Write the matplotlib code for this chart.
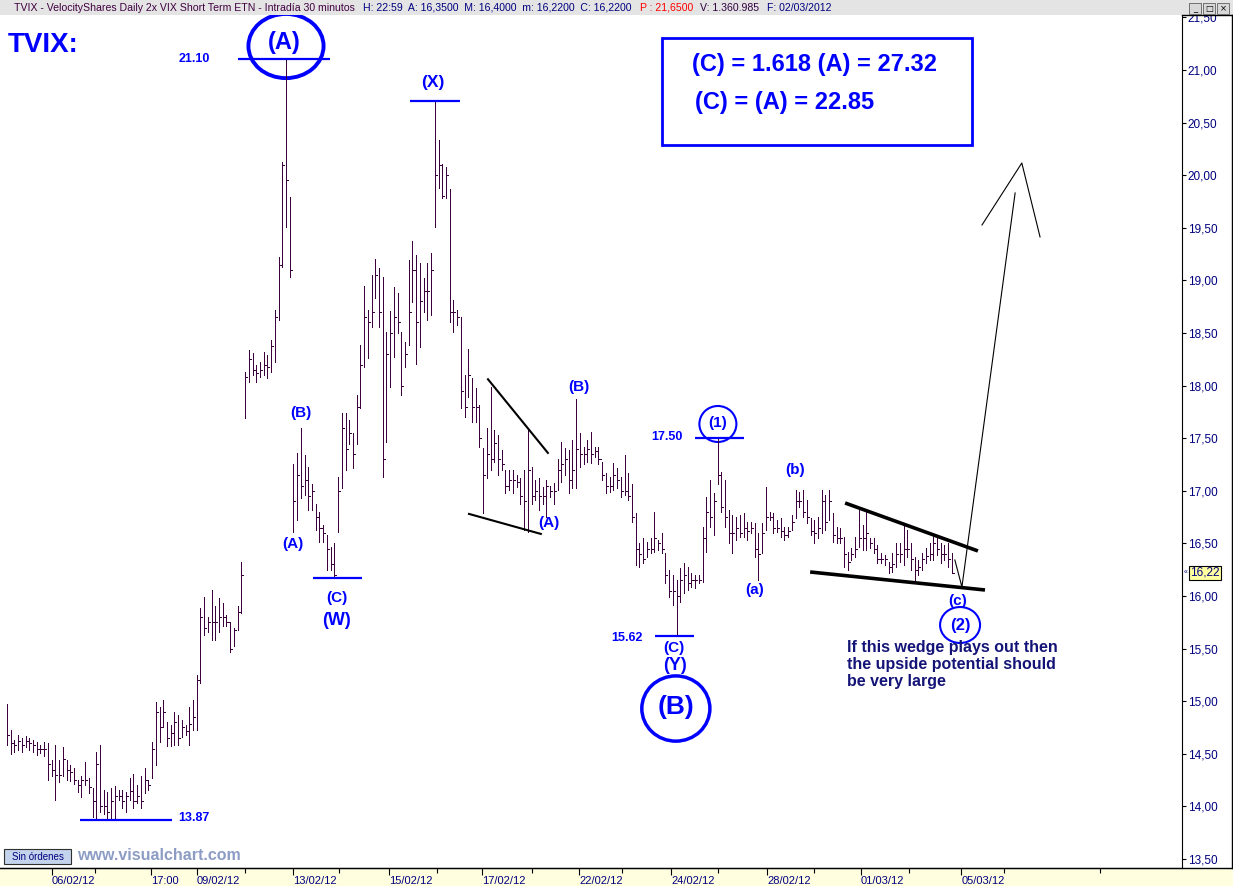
import numpy as np
import matplotlib
matplotlib.use("Agg")
import matplotlib.pyplot as plt
from matplotlib.patches import Ellipse, Rectangle
from matplotlib.lines import Line2D
from matplotlib.ticker import FuncFormatter

plt.rcParams['font.family'] = ['Liberation Sans', 'DejaVu Sans']

# 30 minute bars, TVIX, 03/02/2012 - 02/03/2012
high = [14.97, 14.73, 14.63, 14.68, 14.65, 14.67, 14.65, 14.63, 14.61, 14.58,
        14.61, 14.60, 14.44, 14.58, 14.44, 14.56, 14.44, 14.39, 14.36, 14.25,
        14.29, 14.42, 14.27, 14.17, 14.52, 14.58, 14.16, 14.14, 14.17, 14.19,
        14.16, 14.16, 14.14, 14.27, 14.31, 14.20, 14.29, 14.36, 14.25, 14.61,
        14.99, 14.94, 15.01, 14.80, 14.77, 14.90, 14.87, 14.82, 14.77, 14.94,
        15.01, 15.25, 15.89, 15.99, 15.80, 16.06, 15.90, 15.98, 15.93, 15.82,
        15.75, 15.70, 15.90, 16.32, 18.13, 18.34, 18.31, 18.20, 18.22, 18.32,
        18.29, 18.43, 18.72, 19.22, 20.13, 21.11, 19.79, 17.25, 17.36, 17.60,
        17.34, 17.23, 17.06, 16.87, 16.80, 16.67, 16.58, 16.47, 16.50, 17.13,
        17.74, 17.74, 17.67, 17.55, 17.91, 18.39, 18.95, 18.72, 19.05, 19.20,
        19.12, 19.03, 18.51, 18.71, 18.94, 18.88, 18.51, 18.41, 19.19, 19.37,
        19.24, 19.17, 19.02, 19.17, 19.26, 20.71, 20.33, 20.11, 20.08, 19.87,
        18.81, 18.72, 18.65, 18.10, 18.35, 18.07, 17.98, 17.82, 17.41, 17.60,
        17.99, 17.58, 17.53, 17.39, 17.20, 17.20, 17.20, 17.15, 17.12, 17.20,
        17.58, 17.23, 17.10, 17.12, 17.04, 17.10, 17.05, 17.07, 17.30, 17.46,
        17.41, 17.39, 17.48, 17.87, 17.55, 17.42, 17.48, 17.56, 17.42, 17.42,
        17.27, 17.17, 17.13, 17.26, 17.22, 17.13, 17.34, 17.17, 17.06, 16.79,
        16.50, 16.55, 16.51, 16.55, 16.80, 16.53, 16.60, 16.41, 16.25, 16.20,
        16.15, 16.27, 16.31, 16.28, 16.22, 16.20, 16.20, 16.66, 16.94, 17.10,
        16.98, 17.50, 17.18, 17.10, 16.82, 16.77, 16.75, 16.77, 16.79, 16.70,
        16.70, 16.69, 16.60, 16.69, 17.04, 16.80, 16.79, 16.72, 16.74, 16.66,
        16.66, 16.77, 17.01, 16.99, 17.01, 16.91, 16.74, 16.72, 16.75, 17.01,
        16.96, 17.01, 16.79, 16.66, 16.65, 16.56, 16.42, 16.46, 16.56, 16.84,
        16.67, 16.82, 16.55, 16.55, 16.48, 16.41, 16.39, 16.32, 16.41, 16.50,
        16.50, 16.67, 16.63, 16.50, 16.37, 16.34, 16.41, 16.46, 16.50, 16.58,
        16.56, 16.50, 16.48, 16.50, 16.41]

low = [14.58, 14.50, 14.52, 14.54, 14.52, 14.56, 14.54, 14.52, 14.49, 14.51,
       14.48, 14.25, 14.29, 14.06, 14.23, 14.29, 14.25, 14.24, 14.21, 14.14,
       14.09, 14.20, 14.13, 13.90, 13.89, 13.95, 13.93, 13.89, 13.87, 13.87,
       14.06, 13.98, 13.95, 14.06, 13.98, 14.03, 13.98, 14.13, 14.16, 14.27,
       14.39, 14.61, 14.75, 14.57, 14.57, 14.58, 14.58, 14.66, 14.68, 14.58,
       14.73, 14.73, 15.17, 15.63, 15.66, 15.58, 15.58, 15.66, 15.71, 15.71,
       15.47, 15.52, 15.68, 15.84, 17.69, 18.03, 18.10, 18.03, 18.08, 18.10,
       18.07, 18.13, 18.22, 18.62, 19.13, 19.51, 19.03, 16.61, 16.72, 16.93,
       16.96, 16.82, 16.82, 16.63, 16.51, 16.51, 16.25, 16.25, 16.17, 16.61,
       17.03, 17.20, 17.44, 17.22, 17.44, 17.79, 18.18, 18.26, 18.56, 18.83,
       18.56, 17.13, 17.46, 17.99, 18.27, 18.50, 17.91, 18.18, 18.39, 18.79,
       18.21, 18.37, 18.70, 18.62, 18.67, 19.51, 19.88, 19.78, 19.78, 18.60,
       18.51, 18.58, 17.79, 17.70, 17.89, 17.65, 17.65, 17.42, 16.79, 17.12,
       17.20, 17.27, 17.15, 17.20, 16.98, 17.01, 16.98, 17.04, 16.87, 16.63,
       16.61, 16.87, 16.91, 16.82, 16.87, 16.75, 16.94, 16.87, 17.01, 17.08,
       17.15, 16.98, 17.03, 17.03, 17.23, 17.25, 17.27, 17.26, 17.32, 17.25,
       17.10, 16.98, 16.99, 17.01, 17.03, 16.94, 16.96, 16.91, 16.70, 16.29,
       16.28, 16.31, 16.37, 16.41, 16.42, 16.44, 16.41, 16.12, 15.99, 15.91,
       15.62, 15.94, 16.03, 16.06, 16.09, 16.08, 16.12, 16.13, 16.42, 16.66,
       16.58, 17.06, 16.80, 16.66, 16.50, 16.41, 16.53, 16.56, 16.56, 16.53,
       16.60, 16.37, 16.15, 16.41, 16.63, 16.72, 16.60, 16.61, 16.56, 16.53,
       16.56, 16.63, 16.74, 16.85, 16.75, 16.69, 16.58, 16.50, 16.55, 16.60,
       16.63, 16.72, 16.51, 16.50, 16.50, 16.28, 16.25, 16.34, 16.37, 16.47,
       16.44, 16.44, 16.46, 16.41, 16.31, 16.31, 16.29, 16.22, 16.23, 16.28,
       16.32, 16.29, 16.37, 16.25, 16.15, 16.20, 16.25, 16.31, 16.34, 16.34,
       16.39, 16.31, 16.34, 16.28, 16.22]

close = [14.68, 14.60, 14.58, 14.62, 14.58, 14.62, 14.60, 14.58, 14.55, 14.55,
         14.55, 14.40, 14.35, 14.30, 14.30, 14.45, 14.35, 14.33, 14.25, 14.20,
         14.25, 14.25, 14.18, 14.05, 14.40, 14.00, 14.00, 13.95, 14.05, 14.10,
         14.10, 14.05, 14.10, 14.15, 14.05, 14.10, 14.05, 14.25, 14.20, 14.55,
         14.90, 14.75, 14.90, 14.65, 14.70, 14.80, 14.65, 14.75, 14.72, 14.78,
         14.85, 15.20, 15.80, 15.70, 15.75, 15.75, 15.75, 15.80, 15.80, 15.75,
         15.50, 15.68, 15.85, 16.20, 18.08, 18.25, 18.15, 18.12, 18.15, 18.20,
         18.18, 18.38, 18.65, 19.15, 20.10, 19.95, 19.10, 16.90, 17.15, 17.05,
         17.10, 16.95, 17.00, 16.75, 16.65, 16.60, 16.45, 16.30, 16.20, 17.00,
         17.60, 17.40, 17.55, 17.35, 17.80, 18.20, 18.65, 18.60, 18.70, 19.05,
         18.70, 17.30, 18.30, 18.50, 18.65, 18.60, 18.00, 18.30, 18.70, 19.10,
         18.60, 18.80, 18.90, 18.90, 19.10, 20.00, 20.10, 19.80, 20.00, 18.70,
         18.70, 18.65, 17.95, 17.80, 18.10, 17.80, 17.80, 17.50, 17.15, 17.35,
         17.30, 17.45, 17.30, 17.25, 17.05, 17.10, 17.10, 17.08, 16.95, 16.90,
         17.20, 16.95, 17.00, 16.95, 16.95, 17.05, 17.00, 17.00, 17.20, 17.25,
         17.30, 17.10, 17.20, 17.40, 17.35, 17.35, 17.40, 17.35, 17.38, 17.30,
         17.15, 17.05, 17.05, 17.15, 17.10, 17.00, 17.00, 16.95, 16.75, 16.45,
         16.40, 16.35, 16.45, 16.45, 16.55, 16.50, 16.45, 16.20, 16.05, 16.05,
         16.00, 16.15, 16.20, 16.12, 16.15, 16.15, 16.15, 16.55, 16.80, 16.75,
         16.90, 17.15, 16.85, 16.75, 16.60, 16.60, 16.65, 16.60, 16.65, 16.62,
         16.65, 16.45, 16.40, 16.60, 16.75, 16.75, 16.65, 16.65, 16.62, 16.58,
         16.62, 16.70, 16.90, 16.90, 16.80, 16.75, 16.62, 16.60, 16.65, 16.90,
         16.70, 16.90, 16.58, 16.55, 16.55, 16.40, 16.32, 16.40, 16.45, 16.55,
         16.55, 16.60, 16.50, 16.45, 16.35, 16.35, 16.35, 16.28, 16.30, 16.40,
         16.40, 16.45, 16.45, 16.35, 16.25, 16.28, 16.35, 16.38, 16.40, 16.50,
         16.45, 16.40, 16.40, 16.35, 16.22]

# date axis (bar index positions)
date_ticks = [12.1, 38.7, 51.1, 76.9, 102.7, 127.7, 153.8, 178.5, 204.3, 229.6, 256.5]
date_labels = ['06/02/12', '17:00', '09/02/12', '13/02/12', '15/02/12', '17/02/12',
               '22/02/12', '24/02/12', '28/02/12', '01/03/12', '05/03/12']
day_ticks = [23.7, 64.0, 89.2, 115.6, 141.1, 165.3, 191.1, 216.9, 242.5, 268.0, 293.8]
price_ticks = [13.5, 14.0, 14.5, 15.0, 15.5, 16.0, 16.5, 17.0, 17.5, 18.0,
               18.5, 19.0, 19.5, 20.0, 20.5, 21.0, 21.5]

last_price = 16.22

BAR = '#3c003c'
BLUE = '#0000ff'
NAVY = '#000080'

W, H = 1233, 886
fig = plt.figure(figsize=(W / 100, H / 100), dpi=100)
fig.patch.set_facecolor('white')
ax = fig.add_axes([0, 18 / H, 1182 / W, 853 / H])
ax.set_xlim(-1.88, 315.86)
ax.set_ylim(13.414, 21.523)

# OHLC-style bars
x = np.arange(len(high))
ax.vlines(x, low, high, color=BAR, lw=0.55, antialiased=False)
ax.hlines(close, x, x + 0.55, color=BAR, lw=0.55, antialiased=False)

# axes styling
for s in ['left', 'top']:
    ax.spines[s].set_visible(False)
ax.spines['right'].set_color('black')
ax.spines['bottom'].set_color('black')
ax.yaxis.tick_right()
ax.set_yticks(price_ticks)
ax.yaxis.set_major_formatter(FuncFormatter(lambda v, p: f"{v:.2f}".replace('.', ',')))
ax.tick_params(axis='y', direction='out', length=3, width=0.8, labelcolor=NAVY,
               labelsize=8.5, pad=1)
ax.set_xticks(date_ticks, date_labels)
ax.set_xticks(day_ticks, minor=True)
ax.tick_params(axis='x', which='major', direction='out', length=5, width=0.8,
               labelcolor=NAVY, labelsize=8, pad=0.5)
ax.tick_params(axis='x', which='minor', direction='out', length=3.5, width=0.8)
for lab in ax.get_xticklabels():
    lab.set_horizontalalignment('left')

# last price marker on the scale
ax.annotate(f"{last_price:.2f}".replace('.', ','), xy=(1, last_price),
            xycoords=ax.get_yaxis_transform(), xytext=(8, 0), textcoords='offset pixels',
            ha='left', va='center', fontsize=8.5, color=NAVY, annotation_clip=False,
            bbox=dict(boxstyle='square,pad=0.1', fc='#ffffa0', ec='black', lw=0.8))
ax.annotate('«', xy=(1, last_price), xycoords=ax.get_yaxis_transform(), xytext=(2, 0),
            textcoords='offset pixels', ha='left', va='center', fontsize=5, color=NAVY,
            annotation_clip=False)

# ---- wave annotations ----
def lab(i, p, s, size=11, ha='center', color=BLUE):
    ax.text(i, p, s, ha=ha, va='center', fontsize=size, fontweight='bold', color=color)

def ring(i, p, w, h, lw):
    ax.add_patch(Ellipse((i, p), w, h, fill=False, ec=BLUE, lw=lw))

# (A) top
ax.hlines(21.10, 62.1, 86.8, color=BLUE, lw=1.6)
lab(54.6, 21.10, '21.10', size=9, ha='right')
ring(75.0, 21.228, 20.2, 0.61, 2.8)
lab(74.4, 21.26, '(A)', size=17)

# (X)
ax.hlines(20.71, 108.3, 121.8, color=BLUE, lw=1.6)
lab(114.5, 20.88, '(X)', size=12.5)

# (W) leg
lab(79.0, 17.74, '(B)')
lab(76.9, 16.49, '(A)')
ax.hlines(16.17, 82.3, 95.4, color=BLUE, lw=1.6)
lab(88.7, 15.98, '(C)')
lab(88.7, 15.77, '(W)', size=13)

# first wedge
ax.plot([129.3, 145.4], [18.06, 17.36], color='black', lw=1.5)
ax.plot([124.2, 143.5], [16.78, 16.59], color='black', lw=1.5)
lab(145.7, 16.69, '(A)')
lab(153.8, 17.99, '(B)')

# (Y) / (B) low
ax.hlines(15.62, 174.2, 184.7, color=BLUE, lw=1.6)
lab(171.0, 15.60, '15.62', size=9, ha='right')
lab(179.3, 15.51, '(C)')
lab(179.6, 15.335, '(Y)', size=13)
ring(179.8, 14.93, 18.3, 0.62, 2.5)
lab(179.8, 14.94, '(B)', size=19)

# 13.87 low
ax.hlines(13.87, 19.6, 44.4, color=BLUE, lw=1.6)
lab(46.0, 13.89, '13.87', size=9, ha='left')

# (1) top
ax.hlines(17.50, 185.0, 198.1, color=BLUE, lw=1.6)
lab(181.7, 17.51, '17.50', size=9, ha='right')
ring(191.1, 17.635, 9.95, 0.342, 1.5)
lab(191.1, 17.64, '(1)')
lab(201.1, 16.06, '(a)')
lab(211.8, 17.20, '(b)')

# second wedge
ax.plot([225.3, 261.0], [16.884, 16.428], color='black', lw=2.6, solid_capstyle='butt')
ax.plot([215.9, 262.9], [16.228, 16.057], color='black', lw=2.6, solid_capstyle='butt')
lab(255.6, 15.95, '(c)')
ring(256.2, 15.724, 10.75, 0.342, 1.5)
lab(256.2, 15.72, '(2)', size=12)

# projected move
ax.plot([254.8, 256.7, 271.0], [16.342, 16.086, 19.831], color='black', lw=0.8)
ax.plot([262.1, 272.8, 277.7], [19.527, 20.116, 19.413], color='black', lw=0.8)

ax.text(225.8, 15.58, 'If this wedge plays out then\nthe upside potential should\nbe very large',
        ha='left', va='top', fontsize=11.5, fontweight='bold', color='#141478',
        linespacing=1.15)

# header texts
ax.text(0.0068, 0.9648, 'TVIX:', transform=ax.transAxes, ha='left', va='center',
        fontsize=20, fontweight='bold', color=BLUE)
ax.add_patch(Rectangle((0.5601, 0.8476), 0.2623, 0.1254, transform=ax.transAxes,
                       fill=False, ec=BLUE, lw=2))
ax.text(0.5854, 0.9414, '(C) = 1.618 (A) = 27.32', transform=ax.transAxes, ha='left',
        va='center', fontsize=17, fontweight='bold', color=BLUE)
ax.text(0.588, 0.898, '(C) = (A) = 22.85', transform=ax.transAxes, ha='left',
        va='center', fontsize=17, fontweight='bold', color=BLUE)

# ---- window chrome ----
fig.add_artist(Rectangle((0, 0), 1, 18 / H, transform=fig.transFigure,
                         fc='#ffffe0', ec='none', zorder=-1))
fig.add_artist(Line2D([0, 1], [18 / H, 18 / H], transform=fig.transFigure,
                      color='black', lw=1, zorder=2))
fig.add_artist(Line2D([1182 / W, 1232 / W], [(H - 15) / H] * 2, transform=fig.transFigure,
                      color='black', lw=1, zorder=2))
fig.add_artist(Line2D([1232 / W] * 2, [18 / H, (H - 15) / H], transform=fig.transFigure,
                      color='black', lw=1, zorder=2))
fig.add_artist(Rectangle((0, (H - 15) / H), 1, 15 / H, transform=fig.transFigure,
                         fc='#e4e4e4', ec='none', zorder=1))
ty = (H - 8) / H
fig.text(14 / W, ty, 'TVIX - VelocityShares Daily 2x VIX Short Term ETN - Intradía 30 minutos',
         fontsize=7.6, color='#400040', va='center', zorder=3)
fig.text(363 / W, ty, 'H: 22:59  A: 16,3500  M: 16,4000  m: 16,2200  C: 16,2200',
         fontsize=7.6, color=NAVY, va='center', zorder=3)
fig.text(640 / W, ty, 'P : 21,6500', fontsize=7.6, color='red', va='center', zorder=3)
fig.text(700 / W, ty, 'V: 1.360.985', fontsize=7.6, color='#300040', va='center', zorder=3)
fig.text(767 / W, ty, 'F: 02/03/2012', fontsize=7.6, color=NAVY, va='center', zorder=3)
for k, sym in enumerate(['_', '□', '×']):
    x0 = 1189 + k * 14
    fig.add_artist(Rectangle((x0 / W, (H - 14) / H), 12 / W, 11 / H, transform=fig.transFigure,
                             fc='#d8d8d8', ec='#606060', lw=0.6, zorder=3))
    fig.text((x0 + 6) / W, (H - 8.5) / H, sym, fontsize=6, ha='center', va='center',
             color='black', zorder=4, family='DejaVu Sans')

# footer inside chart
fig.add_artist(Rectangle((4 / W, (H - 864) / H), 67 / W, 15 / H, transform=fig.transFigure,
                         fc='#c4d4ec', ec='#303030', lw=0.8, zorder=3))
fig.text(37.5 / W, (H - 856.5) / H, 'Sin órdenes', fontsize=7, ha='center', va='center',
         color=NAVY, zorder=4)
fig.text(77 / W, (H - 855) / H, 'www.visualchart.com', fontsize=11.5, fontweight='bold',
         ha='left', va='center', color='#8c9cc4', zorder=4)

fig.savefig('out.png', dpi=100)
